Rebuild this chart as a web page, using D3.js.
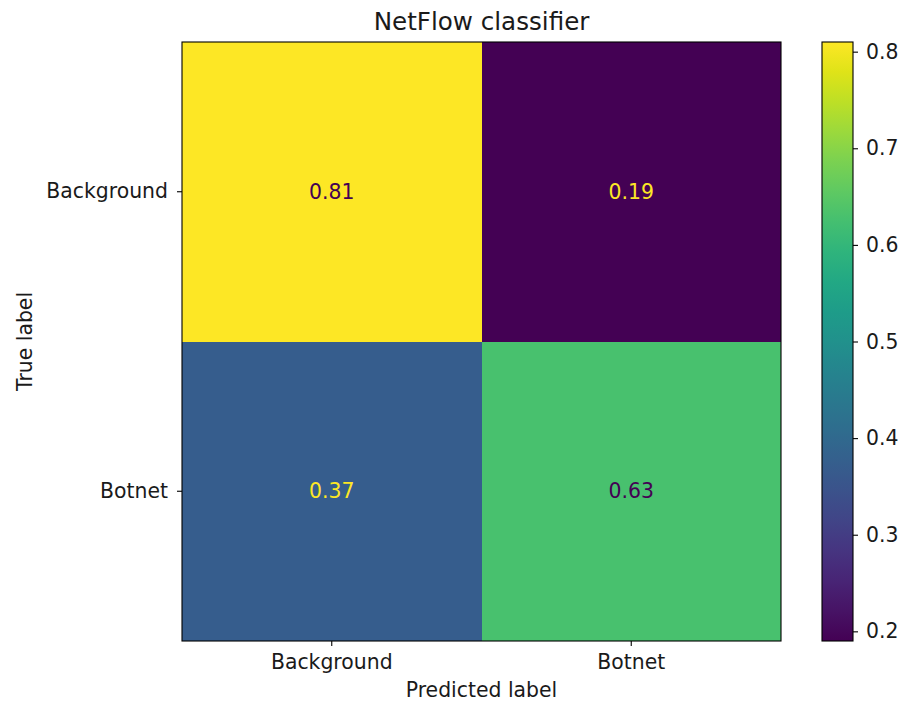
<!DOCTYPE html>
<html>
<head>
<meta charset="utf-8">
<script src="https://cdn.jsdelivr.net/npm/d3@7"></script>
<style>
  html, body { margin: 0; padding: 0; background: #fff; }
  svg { display: block; }
  text { font-family: "DejaVu Sans", sans-serif; fill: #1a1a1a; }
</style>
</head>
<body>
<svg id="chart" width="901" height="703"></svg>
<script>
// Confusion matrix (row-normalised): rows = true label, columns = predicted label
const predictedLabels = ["Background", "Botnet"];
const trueLabels = ["Background", "Botnet"];
const rowBackground = [0.81, 0.19];
const rowBotnet = [0.37, 0.63];
const colorbarTicks = [0.2, 0.3, 0.4, 0.5, 0.6, 0.7, 0.8];
const chartTitle = "NetFlow classifier";
const xAxisTitle = "Predicted label";
const yAxisTitle = "True label";

const rows = [rowBackground, rowBotnet];
const cells = [];
rows.forEach((row, i) => row.forEach((v, j) => cells.push({
  trueLabel: trueLabels[i], predLabel: predictedLabels[j], value: v
})));

const svg = d3.select("#chart");
const W = 901, H = 703;
svg.append("rect").attr("width", W).attr("height", H).attr("fill", "#fff");

const plot = { left: 182, right: 781, top: 42, bottom: 641 };
const cbar = { left: 822, right: 853 };
const tickFont = 20.4, titleFont = 24.6;

const x = d3.scaleBand().domain(predictedLabels).range([plot.left, plot.right]).padding(0);
const y = d3.scaleBand().domain(trueLabels).range([plot.top, plot.bottom]).padding(0);

const extent = d3.extent(cells, d => d.value);
const color = d3.scaleSequential(d3.interpolateViridis).domain(extent);
const thresh = (extent[0] + extent[1]) / 2;

// Heatmap cells
svg.append("g").selectAll("rect").data(cells).join("rect")
  .attr("x", d => x(d.predLabel))
  .attr("y", d => y(d.trueLabel))
  .attr("width", x.bandwidth())
  .attr("height", y.bandwidth())
  .attr("fill", d => color(d.value))
  .attr("shape-rendering", "crispEdges");

// Cell annotations
svg.append("g").selectAll("text").data(cells).join("text")
  .attr("x", d => x(d.predLabel) + x.bandwidth() / 2)
  .attr("y", d => y(d.trueLabel) + y.bandwidth() / 2)
  .attr("text-anchor", "middle")
  .attr("dominant-baseline", "central")
  .style("font-size", tickFont + "px")
  .style("fill", d => d.value < thresh ? d3.interpolateViridis(1) : d3.interpolateViridis(0))
  .text(d => d3.format(".2f")(d.value));

// Frame
svg.append("rect")
  .attr("x", plot.left).attr("y", plot.top)
  .attr("width", plot.right - plot.left).attr("height", plot.bottom - plot.top)
  .attr("fill", "none").attr("stroke", "#000").attr("stroke-width", 1.1);

function styleAxis(g) {
  g.select(".domain").remove();
  g.selectAll("line").attr("stroke", "#000").attr("stroke-width", 1.1);
  g.selectAll("text").style("font-size", tickFont + "px")
    .style("font-family", "DejaVu Sans, sans-serif").attr("fill", "#1a1a1a");
}

// Axes
const gx = svg.append("g").attr("transform", `translate(0,${plot.bottom})`)
  .call(d3.axisBottom(x).tickSize(5).tickPadding(9));
styleAxis(gx);

const gy = svg.append("g").attr("transform", `translate(${plot.left},0)`)
  .call(d3.axisLeft(y).tickSize(5).tickPadding(9));
styleAxis(gy);

// Titles
svg.append("text")
  .attr("x", (plot.left + plot.right) / 2).attr("y", 30)
  .attr("text-anchor", "middle")
  .style("font-size", titleFont + "px")
  .text(chartTitle);

svg.append("text")
  .attr("x", (plot.left + plot.right) / 2).attr("y", 697)
  .attr("text-anchor", "middle")
  .style("font-size", tickFont + "px")
  .text(xAxisTitle);

svg.append("text")
  .attr("transform", `translate(32,${(plot.top + plot.bottom) / 2}) rotate(-90)`)
  .attr("text-anchor", "middle")
  .style("font-size", tickFont + "px")
  .text(yAxisTitle);

// Colorbar
const cy = d3.scaleLinear().domain(extent).range([plot.bottom, plot.top]);
const defs = svg.append("defs");
const grad = defs.append("linearGradient").attr("id", "cbar-grad")
  .attr("x1", 0).attr("y1", 1).attr("x2", 0).attr("y2", 0);
d3.range(0, 1.0001, 0.05).forEach(t => {
  grad.append("stop").attr("offset", t).attr("stop-color", d3.interpolateViridis(t));
});
svg.append("rect")
  .attr("x", cbar.left).attr("y", plot.top)
  .attr("width", cbar.right - cbar.left).attr("height", plot.bottom - plot.top)
  .attr("fill", "url(#cbar-grad)")
  .attr("stroke", "#000").attr("stroke-width", 1.1);

const gc = svg.append("g").attr("transform", `translate(${cbar.right},0)`)
  .call(d3.axisRight(cy).tickValues(colorbarTicks).tickFormat(d3.format(".1f")).tickSize(5).tickPadding(8));
styleAxis(gc);
</script>
</body>
</html>
